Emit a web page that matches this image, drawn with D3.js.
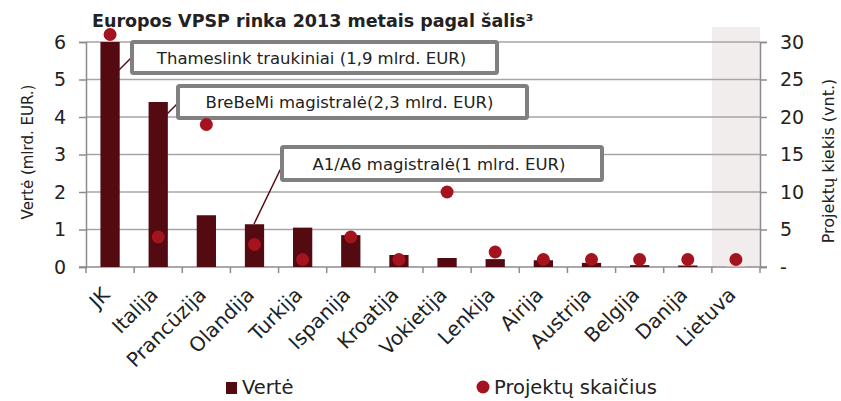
<!DOCTYPE html>
<html>
<head>
<meta charset="utf-8">
<script src="https://cdn.jsdelivr.net/npm/d3@7"></script>
<style>
  body { margin: 0; background: #fff; }
  text { font-family: "DejaVu Sans", sans-serif; fill: #222; }
</style>
</head>
<body>
<svg id="chart" width="841" height="401"></svg>
<script>
// data
const countries = ["JK", "Italija", "Prancūzija", "Olandija", "Turkija", "Ispanija", "Kroatija",
  "Vokietija", "Lenkija", "Airija", "Austrija", "Belgija", "Danija", "Lietuva"];
const verte = [6.0, 4.4, 1.38, 1.14, 1.05, 0.85, 0.32, 0.24, 0.21, 0.18, 0.11, 0.05, 0.04, 0.02];
const projektai = [31, 4, 19, 3, 1, 4, 1, 10, 2, 1, 1, 1, 1, 1];
const leftTicks = [0, 1, 2, 3, 4, 5, 6];
const rightTicks = [0, 5, 10, 15, 20, 25, 30];
const callouts = [
  { text: "Thameslink traukiniai (1,9 mlrd. EUR)", box: [132, 42, 497, 73], from: [119, 70], to: [132, 57] },
  { text: "BreBeMi magistralė(2,3 mlrd. EUR)", box: [178, 86, 527, 118], from: [167, 114], to: [179, 102] },
  { text: "A1/A6 magistralė(1 mlrd. EUR)", box: [282, 147, 602, 180], from: [254, 224], to: [283, 164] }
];

const svg = d3.select("#chart");
const mLeft = 86, mRight = 760, mTop = 42, mBottom = 267;

const x = d3.scaleBand().domain(countries).range([mLeft, mRight]).paddingInner(0.6).paddingOuter(0.3);
const xb = d3.scaleBand().domain(countries).range([mLeft, mRight]);
const y = d3.scaleLinear().domain([0, 6]).range([mBottom, mTop]);
const y2 = d3.scaleLinear().domain([0, 30]).range([mBottom, mTop]);

// shaded Lietuva column
svg.append("rect")
  .attr("x", xb("Lietuva")).attr("y", 27)
  .attr("width", xb.bandwidth()).attr("height", mBottom - 27)
  .attr("fill", "#f2eded");

// gridlines
svg.append("g").selectAll("line")
  .data(leftTicks.slice(1))
  .join("line")
  .attr("x1", mLeft).attr("x2", mRight)
  .attr("y1", d => y(d)).attr("y2", d => y(d))
  .attr("stroke", "#a6a6a6").attr("stroke-width", 1.5);

// left axis
const gl = svg.append("g").attr("transform", `translate(${mLeft},0)`)
  .call(d3.axisLeft(y).tickValues(leftTicks).tickSize(7).tickPadding(13).tickFormat(d3.format("d")));
gl.select(".domain").attr("stroke", "#8c8c8c").attr("stroke-width", 1.5);
gl.selectAll(".tick line").attr("stroke", "#8c8c8c").attr("stroke-width", 1.5);
gl.selectAll(".tick text").style("font-size", "19px").style("font-family", "DejaVu Sans").attr("fill", "#222");

// right axis
const gr = svg.append("g").attr("transform", `translate(${mRight},0)`)
  .call(d3.axisRight(y2).tickValues(rightTicks).tickSize(7).tickPadding(13)
    .tickFormat(d => d === 0 ? "-" : d));
gr.select(".domain").attr("stroke", "#8c8c8c").attr("stroke-width", 1.5);
gr.selectAll(".tick line").attr("stroke", "#8c8c8c").attr("stroke-width", 1.5);
gr.selectAll(".tick text").style("font-size", "19px").style("font-family", "DejaVu Sans").attr("fill", "#222");

// bottom axis line and category ticks
svg.append("line").attr("x1", mLeft - 7).attr("x2", mRight + 7)
  .attr("y1", mBottom).attr("y2", mBottom)
  .attr("stroke", "#8c8c8c").attr("stroke-width", 1.5);
svg.append("g").selectAll("line")
  .data(countries.concat(["end"]))
  .join("line")
  .attr("x1", (d, i) => mLeft + i * xb.step()).attr("x2", (d, i) => mLeft + i * xb.step())
  .attr("y1", mBottom).attr("y2", mBottom + 6)
  .attr("stroke", "#8c8c8c").attr("stroke-width", 1.5);

// bars
svg.append("g").selectAll("rect")
  .data(verte)
  .join("rect")
  .attr("x", (d, i) => x(countries[i]))
  .attr("y", d => y(d))
  .attr("width", x.bandwidth())
  .attr("height", d => mBottom - y(d))
  .attr("fill", (d, i) => countries[i] === "Lietuva" ? "#d8b4b6" : "#530a10");

// leader lines + boxes
callouts.forEach(c => {
  svg.append("line")
    .attr("x1", c.from[0]).attr("y1", c.from[1])
    .attr("x2", c.to[0]).attr("y2", c.to[1])
    .attr("stroke", "#530a10").attr("stroke-width", 1.5);
  svg.append("rect")
    .attr("x", c.box[0]).attr("y", c.box[1])
    .attr("width", c.box[2] - c.box[0]).attr("height", c.box[3] - c.box[1])
    .attr("fill", "#fff").attr("stroke", "#808080").attr("stroke-width", 4)
    .attr("rx", 1.5);
  svg.append("text")
    .attr("x", (c.box[0] + c.box[2]) / 2 - 3)
    .attr("y", (c.box[1] + c.box[3]) / 2 + 6)
    .attr("text-anchor", "middle")
    .style("font-size", "16.5px")
    .text(c.text);
});

// dots
svg.append("g").selectAll("circle")
  .data(projektai)
  .join("circle")
  .attr("cx", (d, i) => xb(countries[i]) + xb.bandwidth() / 2)
  .attr("cy", d => y2(d))
  .attr("r", 6.5)
  .attr("fill", "#a3141f");

// x labels
svg.append("g").selectAll("text")
  .data(countries)
  .join("text")
  .attr("transform", d => `translate(${xb(d) + xb.bandwidth() / 2 + 1},${mBottom + 29}) rotate(-45)`)
  .attr("text-anchor", "end")
  .style("font-size", "20px")
  .text(d => d);

// title
svg.append("text")
  .attr("x", 92).attr("y", 27)
  .style("font-size", "17.5px").style("font-weight", "bold")
  .attr("fill", "#111")
  .text("Europos VPSP rinka 2013 metais pagal šalis³");

// axis titles
svg.append("text")
  .attr("transform", "translate(33,152) rotate(-90)")
  .attr("text-anchor", "middle")
  .style("font-size", "15px")
  .text("Vertė (mlrd. EUR.)");
svg.append("text")
  .attr("transform", "translate(834,161) rotate(-90)")
  .attr("text-anchor", "middle")
  .style("font-size", "16px")
  .text("Projektų kiekis (vnt.)");

// legend
svg.append("rect").attr("x", 226).attr("y", 382).attr("width", 11).attr("height", 12).attr("fill", "#530a10");
svg.append("text").attr("x", 242).attr("y", 394).style("font-size", "19.5px").text("Vertė");
svg.append("circle").attr("cx", 483).attr("cy", 387).attr("r", 6.5).attr("fill", "#a3141f");
svg.append("text").attr("x", 494).attr("y", 394).style("font-size", "19.5px").text("Projektų skaičius");
</script>
</body>
</html>
